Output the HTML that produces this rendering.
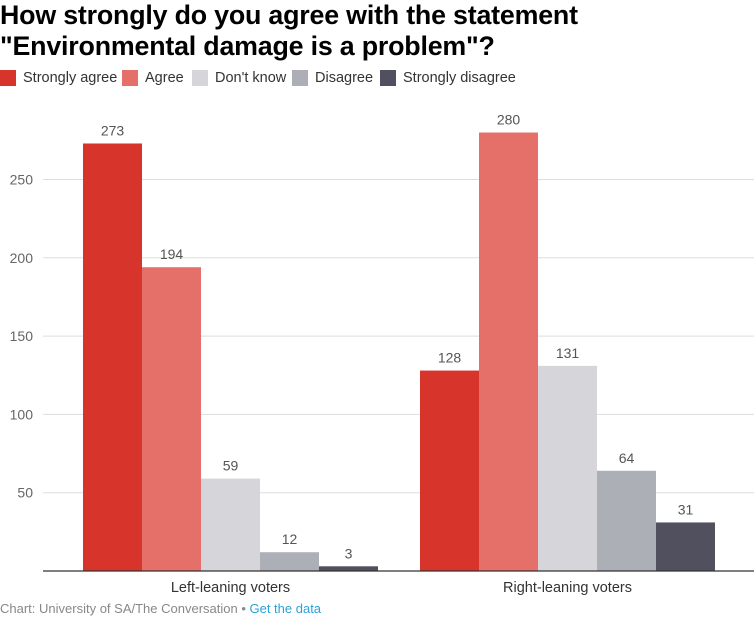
<!DOCTYPE html>
<html><head><meta charset="utf-8"><style>
body{margin:0;width:754px;height:628px;background:#fff;font-family:"Liberation Sans",sans-serif;overflow:hidden;position:relative}
.t{position:absolute;left:0;top:0;font-weight:bold;font-size:26.8px;line-height:31px;color:#000;letter-spacing:-0.2px}
.lg{position:absolute;top:70px;font-size:14.5px;color:#333;display:flex;align-items:center}
.sw{width:16px;height:16px;margin-right:7px}
svg{position:absolute;left:0;top:0}
</style></head><body>
<div class="t">How strongly do you agree with the statement<br>"Environmental damage is a problem"?</div>
<div class="lg" style="left:0"><div class="sw" style="background:#d7352b"></div>Strongly agree</div>
<div class="lg" style="left:122px"><div class="sw" style="background:#e5706a"></div>Agree</div>
<div class="lg" style="left:192px"><div class="sw" style="background:#d6d6da"></div>Don't know</div>
<div class="lg" style="left:292px"><div class="sw" style="background:#adafb7"></div>Disagree</div>
<div class="lg" style="left:380px"><div class="sw" style="background:#50505f"></div>Strongly disagree</div>
<svg id="c" width="754" height="628"></svg>
<div style="position:absolute;left:0;top:601px;font-size:13px;color:#888">Chart: University of SA/The Conversation • <span style="color:#2aa3d8">Get the data</span></div>
<script>
const categories=["Left-leaning voters","Right-leaning voters"];
const seriesNames=["Strongly agree","Agree","Don't know","Disagree","Strongly disagree"];
const stronglyAgree=[273,128];
const agree=[194,280];
const dontKnow=[59,131];
const disagree=[12,64];
const stronglyDisagree=[3,31];
const ticks=[50,100,150,200,250];
const colors=["#d7352b","#e5706a","#d6d6da","#adafb7","#50505f"];
const series=[stronglyAgree,agree,dontKnow,disagree,stronglyDisagree];
const NS="http://www.w3.org/2000/svg",svg=document.getElementById('c');
const y0=571,pxPer=78.3/50;
const y=v=>y0-v*pxPer;
const groupX=i=>83+i*337,bw=59;
function mk(t,a,txt){const e=document.createElementNS(NS,t);for(const k in a)e.setAttribute(k,a[k]);if(txt!=null)e.textContent=txt;svg.appendChild(e);return e;}
ticks.forEach(t=>{
 const l=mk('line',{x1:43,x2:754,y1:y(t),y2:y(t),stroke:'#ddd','stroke-width':1});
 
 
 const tx=mk('text',{x:33,y:y(t)+5,'text-anchor':'end','font-size':14,fill:'#666','font-family':'Liberation Sans, sans-serif'},t);
 
 
});
categories.forEach((c,i)=>{
 series.forEach((s,j)=>{
  const x=groupX(i)+j*bw,v=s[i];
  const r=mk('rect',{x:x,y:y(v),width:bw,height:v*pxPer,fill:colors[j]});
  
  
  const t=mk('text',{x:x+bw/2,y:y(v)-8,'text-anchor':'middle','font-size':14,fill:'#555','font-family':'Liberation Sans, sans-serif'},v);
  
  
 });
 const ct=mk('text',{x:groupX(i)+bw*2.5,y:592,'text-anchor':'middle','font-size':14.5,fill:'#333','font-family':'Liberation Sans, sans-serif'},c);
 
 
});
const ax=mk('line',{x1:43,x2:754,y1:y0,y2:y0,stroke:'#333','stroke-width':1.3});


</script>
</body></html>
